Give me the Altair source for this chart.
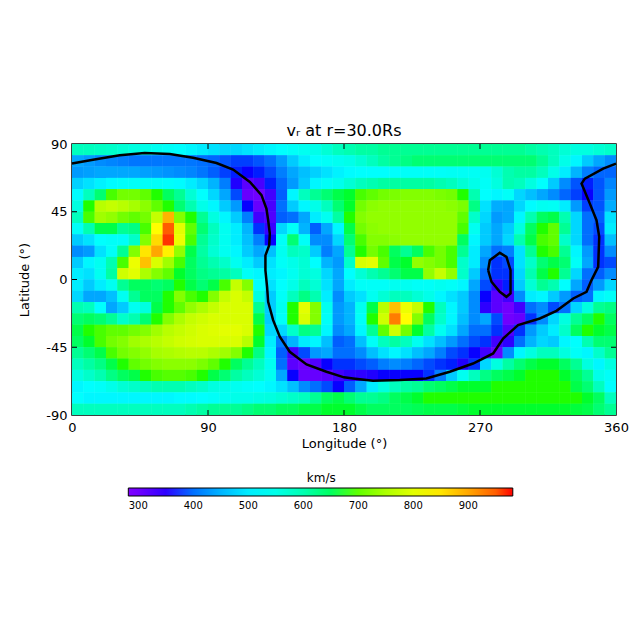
import altair as alt
import pandas as pd

# Radial speed (km/s): 7.5 deg cells, lon 0..360, from north to south
lat_p86 = [590,590,585,580,570,560,550,540,530,520,510,500,490,480,480,490,500,510,520,530,540,550,570,590,600,610,610,620,620,620,620,620,620,620,620,620,620,620,620,620,610,600,590,570,560,560,570,580]
lat_p79 = [440,430,420,415,410,405,405,405,405,405,405,400,395,385,375,375,385,400,430,470,500,520,530,540,550,570,590,610,620,630,640,640,640,640,640,640,640,640,640,640,640,620,590,550,510,470,440,420]
lat_p71 = [430,435,440,440,440,440,435,430,425,420,415,405,390,375,365,360,365,380,410,440,460,475,490,505,515,520,520,520,525,530,530,530,530,535,535,535,540,570,600,610,610,590,550,500,450,410,395,395]
lat_p64 = [475,490,505,515,525,530,530,530,525,515,500,480,450,410,355,320,335,365,395,430,470,510,530,545,570,590,600,610,610,610,610,610,600,590,570,550,530,560,600,590,560,520,470,420,385,365,385,415]
lat_p56 = [515,590,640,690,710,710,700,680,650,620,570,520,480,440,380,310,300,340,390,510,590,620,640,660,670,690,700,710,715,720,720,720,715,710,680,600,520,510,530,480,460,440,420,395,375,360,385,430]
lat_p49 = [560,680,760,770,760,745,725,700,680,640,600,550,510,470,430,360,310,335,400,470,510,550,590,640,670,710,725,730,730,730,730,730,730,725,715,630,490,445,440,480,515,540,535,500,430,375,385,445]
lat_p41 = [590,690,740,730,710,700,710,770,890,720,680,620,560,510,470,410,340,330,390,400,440,500,540,610,680,720,730,730,730,730,730,730,730,730,700,580,480,430,440,510,600,650,660,600,480,400,390,490]
lat_p34 = [530,600,660,660,620,630,690,830,950,800,700,640,590,540,500,450,370,345,480,530,450,390,440,510,660,710,725,730,730,730,730,730,730,730,690,540,470,440,470,560,650,680,700,620,480,400,380,500]
lat_p26 = [470,490,520,530,530,580,720,860,970,810,690,620,580,540,500,460,410,360,530,640,530,420,420,480,640,690,720,720,725,730,730,730,730,730,650,510,470,440,480,600,660,690,700,580,480,400,370,460]
lat_p19 = [420,430,490,530,620,720,850,900,840,730,660,610,570,540,510,470,440,460,540,590,580,470,410,440,620,680,710,690,650,620,650,690,710,690,620,500,440,400,410,490,620,680,690,620,510,430,370,420]
lat_p11 = [470,510,540,600,690,810,880,790,740,690,650,620,600,580,540,500,470,490,530,550,570,520,450,430,580,790,800,700,660,670,730,720,710,690,580,500,420,370,380,490,580,640,660,640,530,440,370,380]
lat_p04 = [500,490,540,610,780,800,750,720,700,670,650,630,620,610,590,530,510,500,510,540,570,560,480,440,520,570,600,620,640,660,660,730,770,730,580,470,400,370,370,480,600,660,680,620,480,400,390,420]
lat_m04 = [500,470,500,540,620,650,650,640,650,680,660,640,660,690,770,720,520,490,520,550,590,570,490,440,500,530,530,530,540,540,530,530,540,530,510,440,380,350,365,470,570,620,600,520,440,390,430,480]
lat_m11 = [480,440,440,460,540,620,650,650,680,720,690,680,720,770,790,770,560,470,530,590,630,600,500,420,470,490,540,570,590,590,570,550,510,490,470,420,360,320,340,420,500,510,470,430,390,400,510,530]
lat_m19 = [600,590,520,440,470,540,560,660,680,700,730,750,770,790,790,790,620,470,540,680,800,720,540,430,450,540,660,760,880,810,770,680,590,510,470,420,350,320,300,340,400,420,380,400,480,560,620,630]
lat_m26 = [640,650,640,620,580,600,640,680,720,750,770,780,790,790,790,790,660,470,530,680,790,720,530,430,450,530,680,780,930,830,720,650,580,510,460,420,440,380,300,310,370,420,480,560,620,650,680,650]
lat_m34 = [660,680,690,700,700,710,720,740,760,770,780,790,795,800,800,790,680,480,480,580,630,620,510,420,440,510,620,700,780,710,670,610,540,490,440,400,400,370,330,370,430,470,500,580,650,680,670,660]
lat_m41 = [650,670,690,710,720,740,750,760,770,780,785,790,790,790,790,760,670,500,410,450,500,510,460,390,400,460,530,590,610,590,540,490,460,430,400,380,370,340,350,400,450,480,470,510,520,600,640,640]
lat_m49 = [620,640,660,690,710,720,730,745,750,755,760,760,750,740,720,680,630,510,390,340,380,430,440,400,400,420,460,490,510,490,460,440,410,380,370,360,340,310,420,510,560,590,590,560,530,510,580,620]
lat_m56 = [590,610,630,660,680,700,710,720,725,725,725,715,700,680,650,620,590,540,400,320,300,330,360,370,370,380,390,410,420,410,395,380,370,365,355,370,480,560,610,640,660,670,670,650,620,560,510,560]
lat_m64 = [560,580,600,630,650,660,680,690,695,695,690,680,660,640,610,590,570,540,440,360,310,310,320,340,350,350,355,360,360,360,360,370,410,470,540,590,630,650,660,670,680,680,680,670,650,620,550,530]
lat_m71 = [510,520,530,550,570,580,590,600,600,600,590,580,560,550,540,530,520,510,490,460,420,400,380,360,390,440,500,560,590,610,620,640,650,660,670,670,670,680,680,680,680,680,680,680,660,640,590,520]
lat_m79 = [520,510,510,510,510,510,510,510,510,515,515,520,530,540,550,550,555,560,570,580,590,620,650,660,640,620,620,630,650,660,670,680,680,680,680,680,680,680,680,680,680,680,680,680,680,670,650,590]
lat_m86 = [590,590,590,590,590,590,590,590,590,590,600,610,620,620,620,630,640,640,650,650,660,660,670,670,670,660,650,650,650,650,655,660,660,660,665,670,670,670,670,670,670,670,670,670,665,660,640,620]
rows = [lat_p86,lat_p79,lat_p71,lat_p64,lat_p56,lat_p49,lat_p41,lat_p34,lat_p26,lat_p19,lat_p11,lat_p04,
        lat_m04,lat_m11,lat_m19,lat_m26,lat_m34,lat_m41,lat_m49,lat_m56,lat_m64,lat_m71,lat_m79,lat_m86]

# Neutral line (black contour)
main_lon = [0,13.9,31.6,48.1,64.7,80.1,95.6,106.6,117.7,125.4,128.7,129.8,130.9,130.5,128,128,129.1,129.8,133.1,137.5,144.1,155.2,168.4,180,186,199.2,216.9,234.5,250,265.4,278.7,285.3,295.2,309.6,320.6,331.7,340.5,343.8,348.2,348.9,347.1,342.7,337.2,339.4,351.5,360]
main_lat = [77,79.6,82.5,84.1,83.4,80.8,77.4,73,64.8,56,47,39.4,30.5,22.8,16,6,-4.9,-14.8,-27,-38,-48,-56.4,-61.3,-65,-65.7,-67.3,-66.8,-65.7,-61.3,-55.8,-49.1,-39.2,-30.3,-25.9,-20.8,-12.6,-8.2,-0.4,8.4,28.3,39.4,50.4,63.7,67,73.7,77]
loop_lon = [275.4,276.5,283.1,287.5,290.2,290.2,287.5,283.1,277.6,275.4]
loop_lat = [6.2,12.8,17.7,15,6.2,-9.3,-11.5,-8.2,-1.5,6.2]

lon_ticks = [0,90,180,270,360]
lat_ticks = [-90,-45,0,45,90]
bar_ticks = [300,400,500,600,700,800,900]
bar_domain = [282,361,518,677,829,981]
bar_colors = ["#8000ff","#0000ff","#00ffff","#00ff00","#ffff00","#ff0000"]

cells = []
for r, row in enumerate(rows):
    for c, v in enumerate(row):
        cells.append({"lon0": c*7.5, "lon1": (c+1)*7.5, "lat1": 90-r*7.5, "lat0": 90-(r+1)*7.5, "v": v})
cells = pd.DataFrame(cells)

xs = alt.Scale(domain=[0,360], nice=False, zero=False)
ys = alt.Scale(domain=[-90,90], nice=False, zero=False)
cs = alt.Scale(domain=bar_domain, range=bar_colors, clamp=True)
FONT = "DejaVu Sans"

heat = alt.Chart(cells).mark_rect().encode(
    x=alt.X("lon0:Q", scale=xs, title="Longitude (°)",
            axis=alt.Axis(values=lon_ticks, tickSize=0, labelPadding=6, labelFontSize=13, titleFontSize=13,
                          titleFontWeight="normal", titlePadding=3, grid=False, domain=False, labelFlush=False,
                          labelExpr="toString(datum.value)",
                          labelColor="black", titleColor="black", labelFont=FONT, titleFont=FONT)),
    x2="lon1:Q",
    y=alt.Y("lat0:Q", scale=ys, title="Latitude (°)",
            axis=alt.Axis(values=lat_ticks, tickSize=0, labelPadding=5, labelFontSize=13, titleFontSize=13,
                          titleFontWeight="normal", titlePadding=14, grid=False, domain=False, labelFlush=False,
                          labelExpr="toString(datum.value)",
                          labelColor="black", titleColor="black", labelFont=FONT, titleFont=FONT)),
    y2="lat1:Q",
    color=alt.Color("v:Q", scale=cs, title="km/s",
                    legend=alt.Legend(type="gradient", orient="none", direction="horizontal", legendX=56.3, legendY=329,
                                      gradientLength=384.5, gradientThickness=8, gradientStrokeColor="black",
                                      gradientStrokeWidth=1, values=bar_ticks, titleAnchor="middle",
                                      titleFontSize=12, titleFontWeight="normal", titleFont=FONT, titlePadding=3,
                                      labelFontSize=10, labelFont=FONT, labelColor="black", titleColor="black",
                                      labelOverlap=False, labelOffset=5)),
)

# same cells painted a second time so that no white hairlines remain between them
heat_cover = alt.Chart(cells).mark_rect().encode(
    x=alt.X("lon0:Q", scale=xs, axis=None), x2="lon1:Q",
    y=alt.Y("lat0:Q", scale=ys, axis=None), y2="lat1:Q",
    color=alt.Color("v:Q", scale=cs, legend=None),
)

lines = pd.concat([
    pd.DataFrame({"lon": main_lon, "lat": main_lat, "seg": "main", "i": range(len(main_lon))}),
    pd.DataFrame({"lon": loop_lon, "lat": loop_lat, "seg": "loop", "i": range(len(loop_lon))}),
])
line = alt.Chart(lines).mark_line(color="black", strokeWidth=2.5).encode(
    x=alt.X("lon:Q", scale=xs, axis=None),
    y=alt.Y("lat:Q", scale=ys, axis=None),
    detail="seg:N", order="i:Q",
)

x_t = pd.DataFrame({"t": lon_ticks[1:-1]})
y_t = pd.DataFrame({"t": lat_ticks[1:-1]})
tick_x = lambda: alt.X("t:Q", scale=xs, axis=None)
tick_y = lambda: alt.Y("t:Q", scale=ys, axis=None)
t_bottom = alt.Chart(x_t).mark_rule(color="black").encode(x=tick_x(), y=alt.value(271), y2=alt.value(266))
t_top = alt.Chart(x_t).mark_rule(color="black").encode(x=tick_x(), y=alt.value(0), y2=alt.value(5))
t_left = alt.Chart(y_t).mark_rule(color="black").encode(y=tick_y(), x=alt.value(0), x2=alt.value(5))
t_right = alt.Chart(y_t).mark_rule(color="black").encode(y=tick_y(), x=alt.value(544), x2=alt.value(539))

bar_t = alt.Chart(pd.DataFrame({"b": bar_ticks})).mark_rule(color="black").encode(
    x=alt.X("b:Q", scale=alt.Scale(domain=[282,981], range=[56.3,440.8], nice=False, zero=False), axis=None),
    y=alt.value(345), y2=alt.value(348),
)

chart = alt.layer(heat, heat_cover, line, t_bottom, t_top, t_left, t_right, bar_t).resolve_scale(
    x="independent", y="independent"
).properties(
    width=544, height=271,
    title=alt.TitleParams("vᵣ at r=30.0Rs", fontSize=16, fontWeight="normal", font=FONT, color="black",
                          anchor="middle", offset=-1),
    padding={"left": 64, "top": 136, "right": 14, "bottom": 200},
    autosize=alt.AutoSizeParams(type="none"),
    background="white",
).configure_view(stroke="black", strokeWidth=1.5)

chart.save("out.html", embed_options={"renderer": "svg", "actions": False})
